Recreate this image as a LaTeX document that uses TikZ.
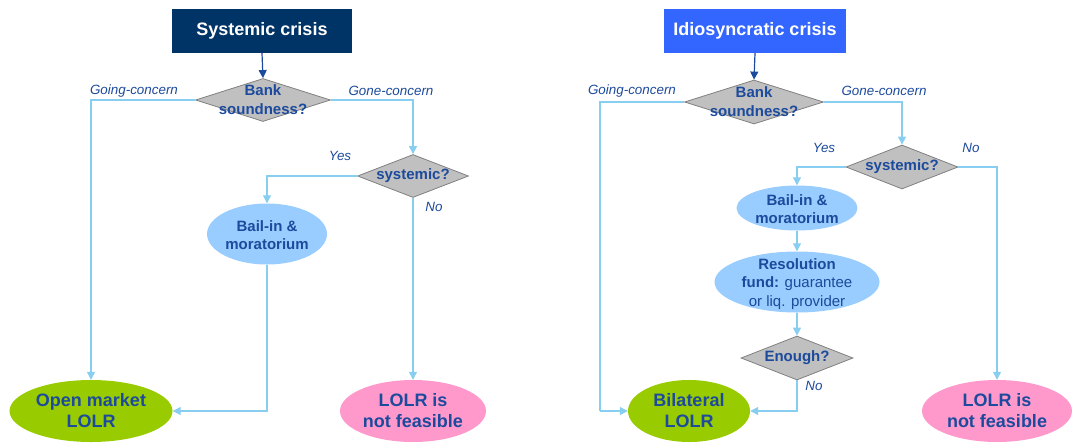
\documentclass[tikz,border=0pt]{standalone}
\usepackage{fontspec}
\setmainfont{Liberation Sans}
\usetikzlibrary{shapes.geometric,arrows.meta}
\definecolor{navy}{RGB}{0,51,102}
\definecolor{brightblue}{RGB}{51,102,255}
\definecolor{txtblue}{RGB}{28,74,156}
\definecolor{lineblue}{RGB}{135,206,240}
\definecolor{dgray}{RGB}{192,192,192}
\definecolor{dborder}{RGB}{128,128,128}
\definecolor{lightell}{RGB}{153,204,255}
\definecolor{greenell}{RGB}{153,204,0}
\definecolor{pinkell}{RGB}{255,153,204}
\tikzset{
  titlebox/.style={rectangle, fill=#1, text=white, font=\fontsize{18}{21}\selectfont\bfseries, minimum height=44pt, inner sep=0pt},
  decision/.style={diamond, fill=dgray, draw=dborder, line width=0.8pt, inner sep=0pt},
  dtext/.style={text=txtblue, font=\fontsize{15}{19}\selectfont\bfseries, align=center, inner sep=0pt},
  oval/.style={ellipse, fill=#1, draw=none, inner sep=0pt},
  bigtext/.style={text=txtblue, font=\fontsize{18}{21}\selectfont\bfseries, align=center, inner sep=0pt},
  midtext/.style={text=txtblue, font=\fontsize{15}{18}\selectfont\bfseries, align=center, inner sep=0pt},
  smalltext/.style={text=txtblue, font=\fontsize{15}{18.5}\selectfont, align=center, inner sep=0pt},
  branch/.style={text=txtblue, font=\fontsize{13.4}{15}\selectfont\itshape, inner sep=0pt},
  flow/.style={draw=lineblue, line width=1.2pt, -{Triangle[length=8pt,width=8pt]}},
  plainflow/.style={draw=lineblue, line width=1.2pt},
  darrow/.style={draw=txtblue, line width=1.2pt, -{Triangle[length=8pt,width=8pt]}}
}
\begin{document}
\begin{tikzpicture}[x=1pt,y=-1pt]
\useasboundingbox (0,0) rectangle (1073,442);
% ---------- left panel ----------
\node[titlebox=navy, minimum width=180pt] (t1) at (262,31) {Systemic crisis};
\node[decision, minimum width=135pt, minimum height=43pt] (d1) at (263,100) {};
\node[dtext] (d1t) at (263,100) {Bank\\soundness?};
\node[decision, minimum width=111pt, minimum height=43pt] (s1) at (413,176) {};
\node[dtext] (s1t) at (413,176) {systemic?};
\node[oval=lightell, minimum width=120pt, minimum height=61pt] (b1) at (267,234) {};
\node[midtext] (b1t) at (267,235) {Bail-in \&\\moratorium};
\node[oval=greenell, minimum width=163pt, minimum height=62pt] (oml) at (91,411) {};
\node[bigtext] (omlt) at (91,411) {Open market\\LOLR};
\node[oval=pinkell, minimum width=146pt, minimum height=62pt] (nf1) at (413,411) {};
\node[bigtext] (nf1t) at (413,411) {LOLR is\\not feasible};
\node[branch] (l1) at (134,91) {Going-concern};
\node[branch] (l2) at (391,91) {Gone-concern};
\node[branch] (l3) at (340,156) {Yes};
\node[branch] (l4) at (434,207) {No};
\draw[darrow] (t1.south) -- (d1.north);
\draw[flow] (d1.west) -| (oml.north);
\draw[flow] (d1.east) -| (s1.north);
\draw[flow] (s1.west) -| (b1.north);
\draw[flow] (s1.south) -- (nf1.north);
\draw[flow] (b1.south) |- (oml.east);
% ---------- right panel ----------
\node[titlebox=brightblue, minimum width=182pt] (t2) at (755,31) {Idiosyncratic crisis};
\node[decision, minimum width=139pt, minimum height=44pt] (d2) at (754,102) {};
\node[dtext] (d2t) at (754,102) {Bank\\soundness?};
\node[decision, minimum width=112pt, minimum height=44pt] (s2) at (902,167) {};
\node[dtext] (s2t) at (902,167) {systemic?};
\node[oval=lightell, minimum width=121pt, minimum height=45pt] (b2) at (797,208) {};
\node[midtext] (b2t) at (797,209) {Bail-in \&\\moratorium};
\node[oval=lightell, minimum width=165pt, minimum height=61pt] (rf) at (797,282) {};
\node[smalltext] (rft) at (797,284) {\textbf{Resolution}\\\textbf{fund:} guarantee\\or liq. provider};
\node[decision, minimum width=112pt, minimum height=44pt] (en) at (797,358) {};
\node[dtext] (ent) at (797,358) {Enough?};
\node[oval=greenell, minimum width=122pt, minimum height=62pt] (bl) at (689,411) {};
\node[bigtext] (blt) at (689,411) {Bilateral\\LOLR};
\node[oval=pinkell, minimum width=150pt, minimum height=62pt] (nf2) at (997,411) {};
\node[bigtext] (nf2t) at (997,411) {LOLR is\\not feasible};
\coordinate (c2) at (600,411);
\node[branch] (r1) at (632,91) {Going-concern};
\node[branch] (r2) at (884,91) {Gone-concern};
\node[branch] (r3) at (824,148) {Yes};
\node[branch] (r4) at (971,148) {No};
\node[branch] (r5) at (814,386) {No};
\draw[darrow] (t2.south) -- (d2.north);
\draw[plainflow] (d2.west) -| (c2);
\draw[flow] (c2) -- (bl.west);
\draw[flow] (d2.east) -| (s2.north);
\draw[flow] (s2.west) -| (b2.north);
\draw[flow] (s2.east) -| (nf2.north);
\draw[flow] (b2.south) -- (rf.north);
\draw[flow] (rf.south) -- (en.north);
\draw[flow] (en.south) |- (bl.east);
\end{tikzpicture}
\end{document}
